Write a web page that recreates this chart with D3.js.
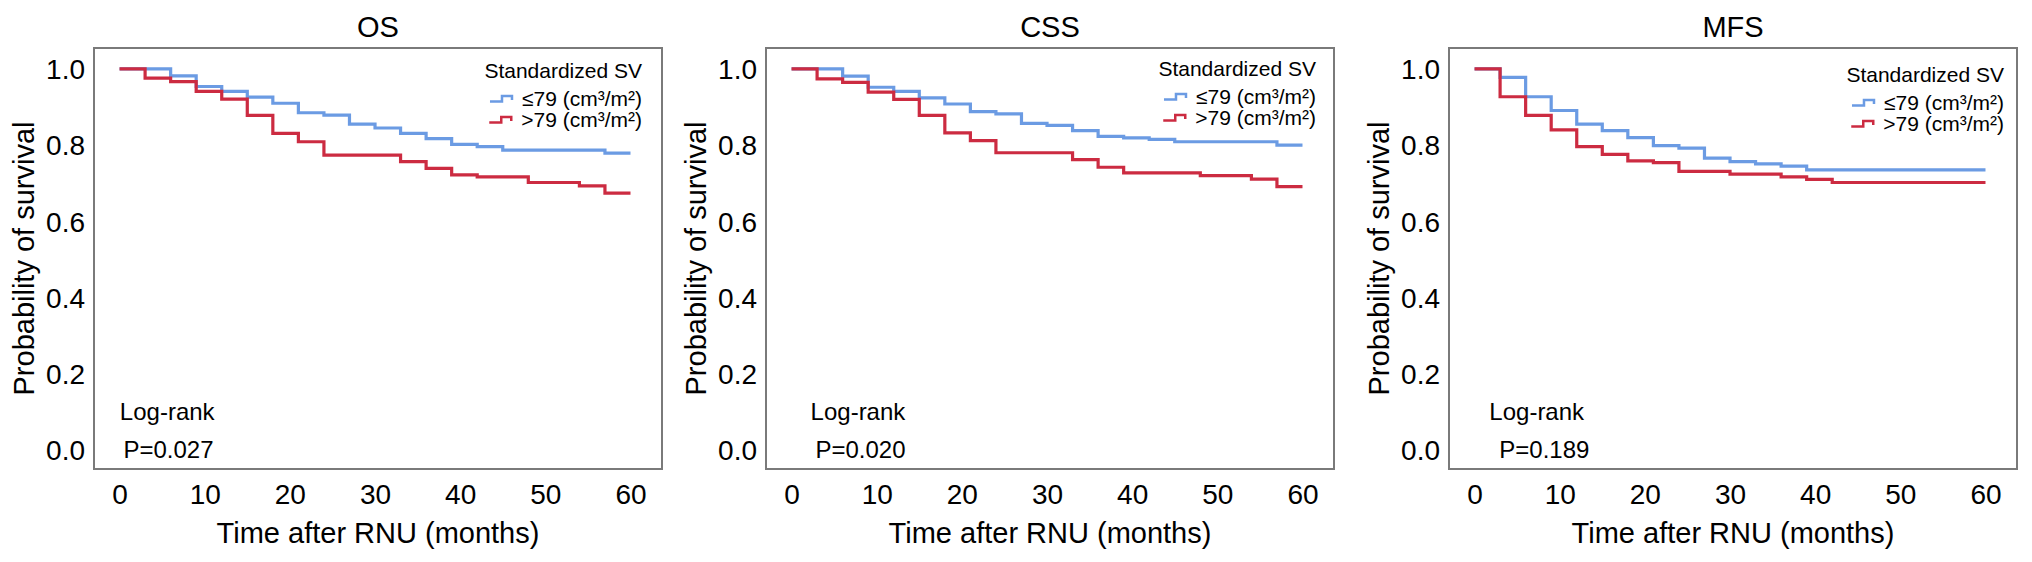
<!DOCTYPE html>
<html>
<head>
<meta charset="utf-8">
<script src="https://cdn.jsdelivr.net/npm/d3@7/dist/d3.min.js"></script>
<style>
  html, body { margin: 0; padding: 0; background: #fff; }
  svg { display: block; }
  text { font-family: "Liberation Sans", Arial, Helvetica, sans-serif; fill: #000; }
</style>
</head>
<body>
<svg id="chart" width="2032" height="562"></svg>
<script>
// ---------------- data ----------------
const panelTitles = ["OS", "CSS", "MFS"];
const xTicks = [0, 10, 20, 30, 40, 50, 60];
const yTicks = [0.0, 0.2, 0.4, 0.6, 0.8, 1.0];
const legendTitle = "Standardized SV";
const groupLabels = ["\u226479 (cm\u00b3/m\u00b2)", ">79 (cm\u00b3/m\u00b2)"];
const pValueLabels = ["P=0.027", "P=0.020", "P=0.189"];
const logRankLabel = "Log-rank";
const xTitle = "Time after RNU (months)";
const yTitle = "Probability of survival";

// [month, survival] step points (Kaplan-Meier)
const osLow  = [[0,1],[6,.982],[9,.954],[12,.941],[15,.926],[18,.910],[21,.885],[24,.879],[27,.855],[30,.845],[33,.831],[36,.817],[39,.802],[42,.796],[45,.787],[57,.779],[60,.779]];
const osHigh = [[0,1],[3,.976],[6,.967],[9,.941],[12,.921],[15,.878],[18,.831],[21,.809],[24,.774],[33,.757],[36,.739],[39,.722],[42,.717],[48,.702],[54,.693],[57,.674],[60,.674]];
const cssLow  = [[0,1],[6,.981],[9,.952],[12,.941],[15,.924],[18,.908],[21,.888],[24,.882],[27,.857],[30,.852],[33,.838],[36,.823],[39,.819],[42,.815],[45,.809],[57,.800],[60,.800]];
const cssHigh = [[0,1],[3,.974],[6,.965],[9,.939],[12,.920],[15,.878],[18,.832],[21,.812],[24,.780],[33,.762],[36,.742],[39,.727],[48,.720],[54,.711],[57,.691],[60,.691]];
const mfsLow  = [[0,1],[3,.978],[6,.927],[9,.891],[12,.855],[15,.838],[18,.820],[21,.799],[24,.792],[27,.766],[30,.757],[33,.751],[36,.745],[39,.735],[60,.735]];
const mfsHigh = [[0,1],[3,.927],[6,.878],[9,.840],[12,.796],[15,.776],[18,.759],[21,.754],[24,.731],[30,.724],[36,.717],[39,.710],[42,.702],[60,.702]];

// annotation positions in data units: [x of "Log-rank", x of P]
const logRankX = [[5.6, 5.75], [7.8, 8.1], [7.3, 8.2]];
const logRankY = [0.1, 0.0];

// ---------------- layout / style ----------------
const seriesColors = ["#6b9be3", "#cc2b41"];
const panelLefts = [94, 766, 1449];
const panelWidth = 568;
const boxTop = 48, boxBottom = 469;
const legendLayout = [ {right: 20, top: 71}, {right: 18, top: 69}, {right: 13, top: 75} ];

const panelsData = [[osLow, osHigh], [cssLow, cssHigh], [mfsLow, mfsHigh]];

const svg = d3.select("#chart");
svg.append("rect").attr("width", 2032).attr("height", 562).attr("fill", "#fff");

const y = d3.scaleLinear().domain([-0.05, 1.055]).range([boxBottom, boxTop]);

panelTitles.forEach((title, i) => {
  const left = panelLefts[i], right = left + panelWidth;
  const x = d3.scaleLinear().domain([-3.0, 63.7]).range([left, right]);
  const g = svg.append("g");

  // curves
  const line = d3.line().x(d => x(d[0])).y(d => y(d[1])).curve(d3.curveStepAfter);
  panelsData[i].forEach((series, s) => {
    g.append("path").datum(series)
      .attr("d", line)
      .attr("fill", "none")
      .attr("stroke", seriesColors[s])
      .attr("stroke-width", 3.2)
      .attr("stroke-linejoin", "miter");
  });

  // box
  g.append("rect")
    .attr("x", left).attr("y", boxTop)
    .attr("width", panelWidth).attr("height", boxBottom - boxTop)
    .attr("fill", "none").attr("stroke", "#7a7a7a").attr("stroke-width", 2);

  // x axis (no ticks)
  const xAxis = d3.axisBottom(x).tickValues(xTicks).tickSize(0).tickPadding(0).tickFormat(d3.format("d"));
  const xg = g.append("g").attr("transform", `translate(0,${boxBottom})`).call(xAxis);
  xg.select(".domain").remove();
  xg.selectAll("text").attr("font-size", 28).attr("y", 15).attr("dy", "0.71em")
    .style("font-family", "Liberation Sans, Arial, sans-serif").attr("fill", "#000");

  // y axis (no ticks)
  const yAxis = d3.axisLeft(y).tickValues(yTicks).tickSize(0).tickPadding(9).tickFormat(d3.format(".1f"));
  const yg = g.append("g").attr("transform", `translate(${left},0)`).call(yAxis);
  yg.select(".domain").remove();
  yg.selectAll("text").attr("font-size", 28).attr("dy", "0.35em")
    .style("font-family", "Liberation Sans, Arial, sans-serif").attr("fill", "#000");

  // titles
  g.append("text").attr("x", (left + right) / 2).attr("y", 36.5)
    .attr("text-anchor", "middle").attr("font-size", 29).text(title);
  g.append("text").attr("x", (left + right) / 2).attr("y", 543)
    .attr("text-anchor", "middle").attr("font-size", 29).text(xTitle);
  g.append("text")
    .attr("transform", `translate(${left - 70},${(boxTop + boxBottom) / 2}) rotate(-90)`)
    .attr("text-anchor", "middle").attr("dy", "0.35em").attr("font-size", 29).text(yTitle);

  // log-rank annotation
  g.append("text").attr("x", x(logRankX[i][0])).attr("y", y(logRankY[0]))
    .attr("dy", "0.35em").attr("text-anchor", "middle").attr("font-size", 24).text(logRankLabel);
  g.append("text").attr("x", x(logRankX[i][1])).attr("y", y(logRankY[1]))
    .attr("dy", "0.35em").attr("text-anchor", "middle").attr("font-size", 24).text(pValueLabels[i]);

  // legend
  const L = legendLayout[i];
  const lx = right - L.right;
  g.append("text").attr("x", lx).attr("y", L.top).attr("dy", "0.35em")
    .attr("text-anchor", "end").attr("font-size", 21).text(legendTitle);
  groupLabels.forEach((lab, s) => {
    const cy = L.top + 28 + s * 21;
    const t = g.append("text").attr("x", lx).attr("y", cy).attr("dy", "0.35em")
      .attr("text-anchor", "end").attr("font-size", 21).text(lab);
    const w = t.node().getComputedTextLength();
    const kx = lx - w - 32;
    g.append("path")
      .attr("d", `M${kx},${cy + 2.5} H${kx + 12} V${cy - 3} H${kx + 22} V${cy + 1}`)
      .attr("fill", "none").attr("stroke", seriesColors[s]).attr("stroke-width", 2.5);
  });
});
</script>
</body>
</html>
